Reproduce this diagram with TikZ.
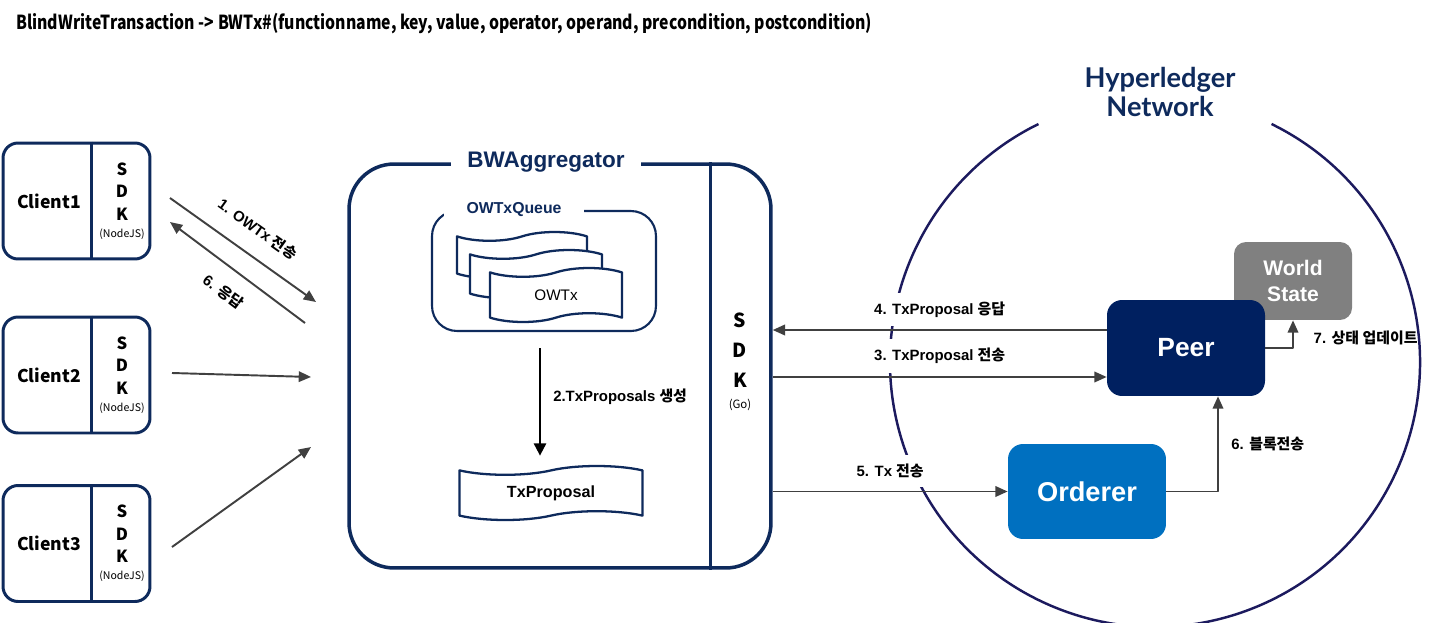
\documentclass[tikz,border=0pt]{standalone}
\usepackage{fontspec}
\setmainfont{Liberation Sans}
\newfontfamily\krfont{Noto Sans CJK KR}
\newfontfamily\latofont{Lato}
\usetikzlibrary{arrows.meta,shapes.symbols}
\definecolor{navy}{RGB}{14,42,92}
\definecolor{ringblue}{RGB}{28,26,94}
\definecolor{peerblue}{RGB}{0,32,96}
\definecolor{ordblue}{RGB}{0,112,192}
\definecolor{wsgray}{RGB}{128,128,128}
\definecolor{arrgray}{RGB}{64,64,64}
\newcommand{\kr}[1]{{\krfont #1}}
\begin{document}
\begin{tikzpicture}[x=0.02cm,y=-0.02cm,>={Triangle[length=7pt,width=6pt]},line join=round,
    arr/.style={->,draw=arrgray,line width=1.1pt},
    lbl/.style={font=\bfseries\fontsize{8.5}{10}\selectfont,fill=white,inner sep=5pt},
    cllbl/.style={font=\bfseries\fontsize{8.5}{10}\selectfont,inner sep=1pt},
    clientbox/.style={draw=navy,line width=1.7pt,rounded corners=0.3cm,minimum width=2.94cm,minimum height=2.32cm},
    tapebox/.style={tape,draw=navy,fill=white,line width=1.3pt,tape bend height=5pt},
    hlbox/.style={rounded corners=0.3cm,text=white,font=\bfseries\fontsize{15}{18}\selectfont}]
\useasboundingbox (0,0) rectangle (1440,622);
\node[anchor=west,inner sep=0pt,font=\krfont\bfseries\fontsize{11}{13}\selectfont] (title) at (16,24)
    {\scalebox{0.815}[1]{BlindWriteTransaction -> BWTx\#(functionname, key, value, operator, operand, precondition, postcondition)}};
% clients
\foreach \i/\y in {1/201,2/375,3/543.5}{
    \node[clientbox] (cl\i) at (76.5,\y) {};
    \draw[navy,line width=1.4pt] ([xshift=1.8cm]cl\i.north west) -- ([xshift=1.8cm]cl\i.south west);
    \node[font=\krfont\bfseries\fontsize{10}{12}\selectfont] (name\i) at (49,\y) {Client\i};
    \node[font=\krfont\bfseries\fontsize{9.5}{12.75}\selectfont,align=center] (sdk\i) at (122,\y)
        {S\\D\\K\\[-3pt]{\fontsize{6}{7}\selectfont\mdseries (NodeJS)}};
}
% aggregator
\node[draw=navy,line width=2pt,rounded corners=0.9cm,minimum width=8.44cm,minimum height=8.08cm] (agg) at (560,366) {};
\draw[navy,line width=1.6pt] ([xshift=-1.24cm]agg.north east) -- ([xshift=-1.24cm]agg.south east);
\node[fill=white,inner xsep=9pt,text=navy,font=\bfseries\fontsize{12.8}{15}\selectfont] (aggname) at ([xshift=-0.28cm]agg.north) {BWAggregator};
\node[font=\krfont\bfseries\fontsize{11}{17}\selectfont,align=center] (sdkgo) at (740,362)
    {S\\D\\K\\[-5pt]{\fontsize{6.5}{7}\selectfont\mdseries (Go)}};
\node[draw=navy,line width=1.2pt,rounded corners=0.5cm,minimum width=4.48cm,minimum height=2.4cm] (queue) at (544,271) {};
\node[fill=white,inner xsep=0.45cm,inner ysep=1pt,text=navy,font=\bfseries\fontsize{9}{11}\selectfont] (qname) at ([xshift=-0.6cm]queue.north) {OWTxQueue};
\node[tapebox,minimum width=2.6cm,minimum height=0.92cm] (tp1) at (522,255) {};
\node[tapebox,minimum width=2.64cm,minimum height=0.96cm] (tp2) at (536,274) {};
\node[tapebox,minimum width=2.64cm,minimum height=1.08cm,font=\fontsize{8.7}{10}\selectfont] (tp3) at (556,295) {OWTx};
\node[tapebox,minimum width=3.66cm,minimum height=1.08cm,font=\bfseries\fontsize{9.2}{11}\selectfont] (txp) at (551,493) {TxProposal};
\draw[->,line width=1.1pt,>={Triangle[length=7pt,width=7pt]}] ([shift={(-4,16)}]queue.south) -- ([shift={(-11,-14)}]txp.north)
    node[midway,right=6pt,cllbl,yshift=3pt] {2.TxProposals \kr{생성}};
% client arrows
\coordinate (c1a) at (170,198); \coordinate (c1b) at (316,302);
\coordinate (c6a) at (305,323); \coordinate (c6b) at (170,222);
\coordinate (c2a) at (172,373); \coordinate (c2b) at (311,377);
\coordinate (c3a) at (172,547); \coordinate (c3b) at (311,447);
\draw[arr] (c1a) -- (c1b) node[midway,sloped,above=9pt,cllbl] {1. OWTx \kr{전송}};
\draw[arr,<-] (c6b) -- (c6a) node[midway,sloped,below=8pt,cllbl] {6. \kr{응답}};
\draw[arr] (c2a) -- (c2b);
\draw[arr] (c3a) -- (c3b);
% hyperledger network
\draw[ringblue,line width=1.4pt] (1155,362) ++(-63.9:265) arc[start angle=-63.9,end angle=243.9,radius=265];
\node[text=navy,align=center,font=\latofont\bfseries\fontsize{15.5}{16.5}\selectfont] (hlnet) at (1160,92) {Hyperledger\\Network};
\node[hlbox,fill=wsgray,rounded corners=0.24cm,minimum width=2.36cm,minimum height=1.56cm,align=center,
    font=\bfseries\fontsize{12}{15.3}\selectfont] (world) at (1293,281) {World\\State};
\node[hlbox,fill=peerblue,minimum width=3.16cm,minimum height=1.92cm] (peer) at (1186,348) {Peer};
\node[hlbox,fill=ordblue,minimum width=3.16cm,minimum height=1.9cm,font=\bfseries\fontsize{15.5}{18}\selectfont] (orderer) at (1087,491.5) {Orderer};
\coordinate (p4) at ([yshift=0.36cm]peer.west);
\coordinate (p3) at ([yshift=-0.58cm]peer.west);
\draw[arr] (p4) -- (p4 -| agg.east) node[midway,above=1.5pt,lbl] {4. TxProposal \kr{응답}};
\draw[arr] (p3 -| agg.east) -- (p3) node[midway,above=2pt,lbl] {3. TxProposal \kr{전송}};
\draw[arr] (agg.east |- orderer.west) -- (orderer.west) node[midway,above=2pt,lbl] {5. Tx \kr{전송}};
\draw[arr] (orderer.east) -| ([xshift=0.64cm]peer.south) node[pos=0.75,right=6pt,cllbl] {6. \kr{블록전송}};
\draw[arr] (peer.east) -| (world.south) node[pos=0.5,anchor=west,xshift=0.36cm,yshift=0.2cm,cllbl] {7. \kr{상태 업데이트}};
\end{tikzpicture}
\end{document}
